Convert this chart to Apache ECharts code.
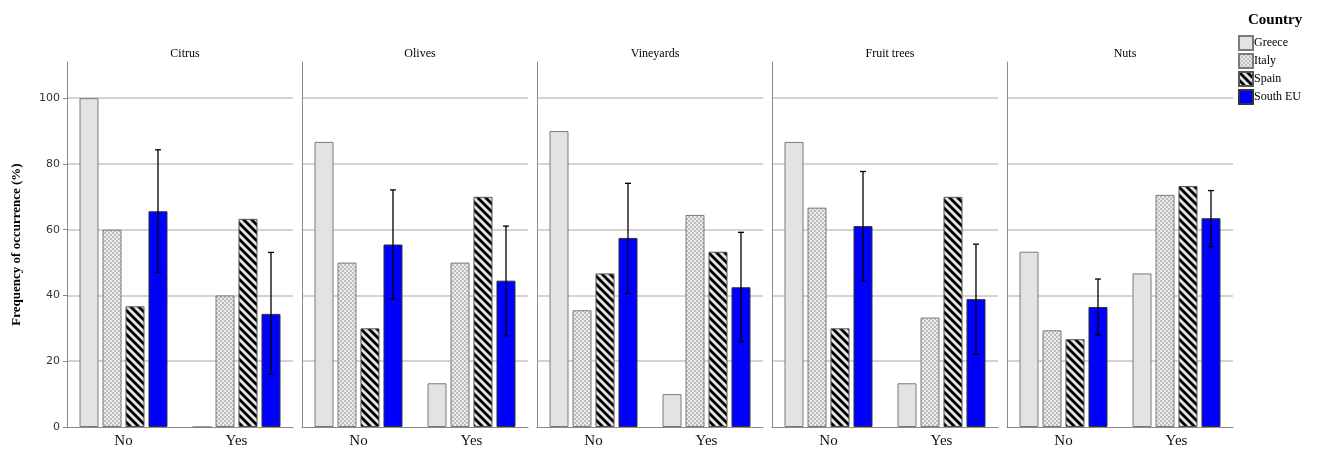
<!DOCTYPE html>
<html>
<head>
<meta charset="utf-8">
<script src="https://cdn.jsdelivr.net/npm/echarts@6/dist/echarts.min.js"></script>
<style>
html,body{margin:0;padding:0;background:#fff;}
#chart{width:1322px;height:452px;}
</style>
</head>
<body>
<div id="chart"></div>
<script>
// ---- data ----
const categories = ['No', 'Yes'];
const crops = ['Citrus', 'Olives', 'Vineyards', 'Fruit trees', 'Nuts'];
const countries = ['Greece', 'Italy', 'Spain', 'South EU'];
const yTicks = [0, 20, 40, 60, 80, 100];
// values per crop: [No, Yes]
const greece  = [[100, 0], [86.7, 13.3], [90, 10], [86.7, 13.3], [53.3, 46.7]];
const italy   = [[60, 40], [50, 50], [35.5, 64.5], [66.7, 33.3], [29.4, 70.6]];
const spain   = [[36.7, 63.3], [30, 70], [46.7, 53.3], [30, 70], [26.7, 73.3]];
const southEU = [[65.6, 34.4], [55.5, 44.5], [57.5, 42.5], [61.1, 38.9], [36.5, 63.5]];
// South EU error bars per crop: [[lowNo, highNo], [lowYes, highYes]]
const southEUErr = [
  [[47.0, 84.3], [16.0, 53.1]],
  [[38.9, 72.1], [27.7, 61.1]],
  [[40.6, 74.1], [25.9, 59.2]],
  [[44.5, 77.7], [22.1, 55.6]],
  [[27.9, 45.0], [54.8, 71.9]]
];
const countryValues = [greece, italy, spain, southEU];

// ---- patterns ----
function dotPattern() {
  const c = document.createElement('canvas');
  c.width = 4; c.height = 4;
  const g = c.getContext('2d');
  g.fillStyle = '#ececec'; g.fillRect(0, 0, 4, 4);
  g.fillStyle = '#bdbdbd';
  g.fillRect(0, 0, 2, 2); g.fillRect(2, 2, 2, 2);
  return c;
}
function stripePattern() {
  const s = 8;
  const c = document.createElement('canvas');
  c.width = s; c.height = s;
  const g = c.getContext('2d');
  g.fillStyle = '#e2e2e2'; g.fillRect(0, 0, s, s);
  g.strokeStyle = '#000'; g.lineWidth = 2.8;
  g.beginPath();
  for (let k = -1; k <= 1; k++) {
    g.moveTo(k * s - 1, -1); g.lineTo(k * s + s + 1, s + 1);
  }
  g.stroke();
  return c;
}
const fills = [
  { color: '#e3e3e3', border: '#7a7a7a' },
  { color: { image: dotPattern(), repeat: 'repeat' }, border: '#7a7a7a' },
  { color: { image: stripePattern(), repeat: 'repeat' }, border: '#555' },
  { color: '#0000ff', border: '#333' }
];

const SERIF = 'Liberation Serif';
const BAR_W = 19, BAR_GAP = 0.21;
const gridLeft = [67, 302, 537, 772, 1007];
const GRID_W = 226, GRID_TOP = 62, GRID_H = 365;

const grids = [], xAxes = [], yAxes = [], series = [], titles = [];
crops.forEach((crop, i) => {
  grids.push({ left: gridLeft[i], top: GRID_TOP, width: GRID_W, height: GRID_H, containLabel: false });
  titles.push({
    text: crop, left: gridLeft[i] + GRID_W / 2, top: 43, textAlign: 'center',
    textStyle: { fontFamily: SERIF, fontSize: 12, fontWeight: 'normal', color: '#000' }
  });
  xAxes.push({
    type: 'category', gridIndex: i, data: categories,
    axisLine: { show: true, lineStyle: { color: '#8a8a8a', width: 1 } },
    axisTick: { show: false },
    axisLabel: { fontFamily: SERIF, fontSize: 15, color: '#111', margin: 7 }
  });
  yAxes.push({
    type: 'value', gridIndex: i, min: 0, max: 111, interval: 20,
    name: i === 0 ? 'Frequency of occurrence (%)' : '',
    nameLocation: 'middle', nameGap: 44, nameRotate: 90,
    nameTextStyle: { fontFamily: SERIF, fontSize: 13, fontWeight: 'bold', color: '#000' },
    axisLine: { show: true, lineStyle: { color: '#8a8a8a', width: 1 } },
    axisTick: { show: i === 0, length: 4, customValues: yTicks, lineStyle: { color: '#8a8a8a' } },
    axisLabel: { show: i === 0, customValues: yTicks, fontFamily: 'DejaVu Sans', fontSize: 11, color: '#333', margin: 7 },
    splitLine: { show: true, showMinLine: false, lineStyle: { color: '#c4c4c4', width: 1.5 } }
  });
  countries.forEach((name, c) => {
    series.push({
      type: 'bar', name: name, xAxisIndex: i, yAxisIndex: i,
      data: countryValues[c][i],
      barWidth: BAR_W, barGap: (BAR_GAP * 100) + '%',
      itemStyle: { color: fills[c].color, borderColor: fills[c].border, borderWidth: 1 },
      emphasis: { disabled: true },
      z: 2
    });
  });
  series.push({
    type: 'custom', xAxisIndex: i, yAxisIndex: i, z: 5,
    data: southEUErr[i].map((e, k) => [k, e[0], e[1]]),
    renderItem: function (params, api) {
      const off = 1.5 * BAR_W * (1 + BAR_GAP);
      const lo = api.coord([api.value(0), api.value(1)]);
      const hi = api.coord([api.value(0), api.value(2)]);
      const x = lo[0] + off;
      const cap = 3;
      const st = { stroke: '#000', lineWidth: 1.3 };
      return {
        type: 'group',
        children: [
          { type: 'line', shape: { x1: x, y1: lo[1], x2: x, y2: hi[1] }, style: st },
          { type: 'line', shape: { x1: x - cap, y1: lo[1], x2: x + cap, y2: lo[1] }, style: st },
          { type: 'line', shape: { x1: x - cap, y1: hi[1], x2: x + cap, y2: hi[1] }, style: st }
        ]
      };
    }
  });
});

titles.push({
  text: 'Country', left: 1243, top: 8,
  textStyle: { fontFamily: SERIF, fontSize: 15, fontWeight: 'bold', color: '#000' }
});

const chart = echarts.init(document.getElementById('chart'), null, { renderer: 'canvas' });
chart.setOption({
  animation: false,
  backgroundColor: '#fff',
  title: titles,
  legend: {
    data: countries, orient: 'vertical', left: 1233, top: 30,
    itemWidth: 14, itemHeight: 14, itemGap: 2,
    icon: 'rect', selectedMode: false,
    textStyle: { fontFamily: SERIF, fontSize: 12, lineHeight: 14, color: '#000', padding: [0, 0, 0, -4] }
  },
  grid: grids,
  xAxis: xAxes,
  yAxis: yAxes,
  series: series
});
</script>
</body>
</html>
